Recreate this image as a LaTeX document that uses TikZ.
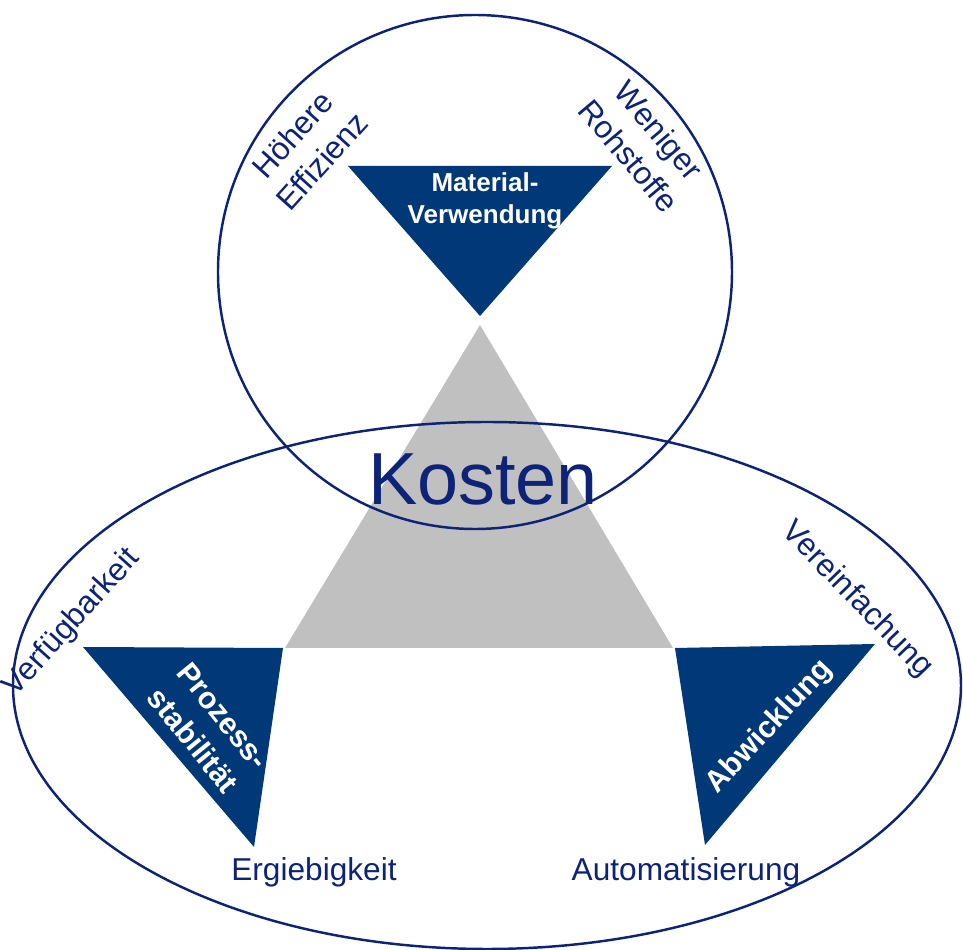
\documentclass[tikz,border=0pt]{standalone}
\usepackage{fontspec}
\setmainfont{Liberation Sans}
\definecolor{kostennavy}{HTML}{0D2378}
\definecolor{kostenblue}{HTML}{003878}
\definecolor{kostengray}{HTML}{C0C0C0}

\begin{document}
\begin{tikzpicture}[ring/.style={draw=kostennavy,line width=.7pt},wedge/.style={fill=kostenblue},lbl/.style={text=kostennavy,align=center,font=\fontsize{9}{11.2}\selectfont},inlbl/.style={text=white,align=center,font=\bfseries\fontsize{8.6}{11}\selectfont}]
\useasboundingbox (0,0) rectangle (9.63,-9.50);
% Kostendreieck
\coordinate (top) at (4.80,-3.25);
\coordinate (left) at (2.85,-6.48);
\coordinate (right) at (6.73,-6.48);
\fill[kostengray] (top)--(right)--(left)--cycle;
% Kreis und Ellipse
\draw[ring] (4.75,-2.72) circle[radius=2.57];
\draw[ring] (4.87,-6.855) ellipse[x radius=4.74,y radius=2.635];
% Spitzen
\fill[wedge] (3.48,-1.66)--(6.12,-1.66)--(4.80,-3.16)--cycle;
\fill[wedge] (0.83,-6.47)--(2.83,-6.48)--(2.54,-8.47)--cycle;
\fill[wedge] (6.75,-6.48)--(8.75,-6.44)--(7.05,-8.45)--cycle;
% Texte
\node[text=kostennavy,font=\fontsize{21}{25}\selectfont] (kosten) at (4.83,-4.79) {Kosten};
\node[inlbl,font=\bfseries\fontsize{7.4}{9.1}\selectfont] (material) at (4.85,-2.01) {Material-\\Verwendung};
\node[inlbl,rotate=-51] (prozess) at (2.08,-7.28) {Prozess-\\stabilität};
\node[inlbl,rotate=47] (abwicklung) at (7.70,-7.27) {Abwicklung};
\node[lbl,rotate=48] (effizienz) at (3.07,-1.48) {Höhere\\Effizienz};
\node[lbl,rotate=-50] (rohstoffe) at (6.44,-1.43) {Weniger\\Rohstoffe};
\node[lbl,rotate=48] (verfuegbarkeit) at (0.72,-6.23) {Verfügbarkeit};
\node[lbl,rotate=-46] (vereinfachung) at (8.57,-6.00) {Vereinfachung};
\node[lbl] (ergiebigkeit) at (3.14,-8.72) {Ergiebigkeit};
\node[lbl] (automatisierung) at (6.86,-8.72) {Automatisierung};
\end{tikzpicture}
\end{document}
